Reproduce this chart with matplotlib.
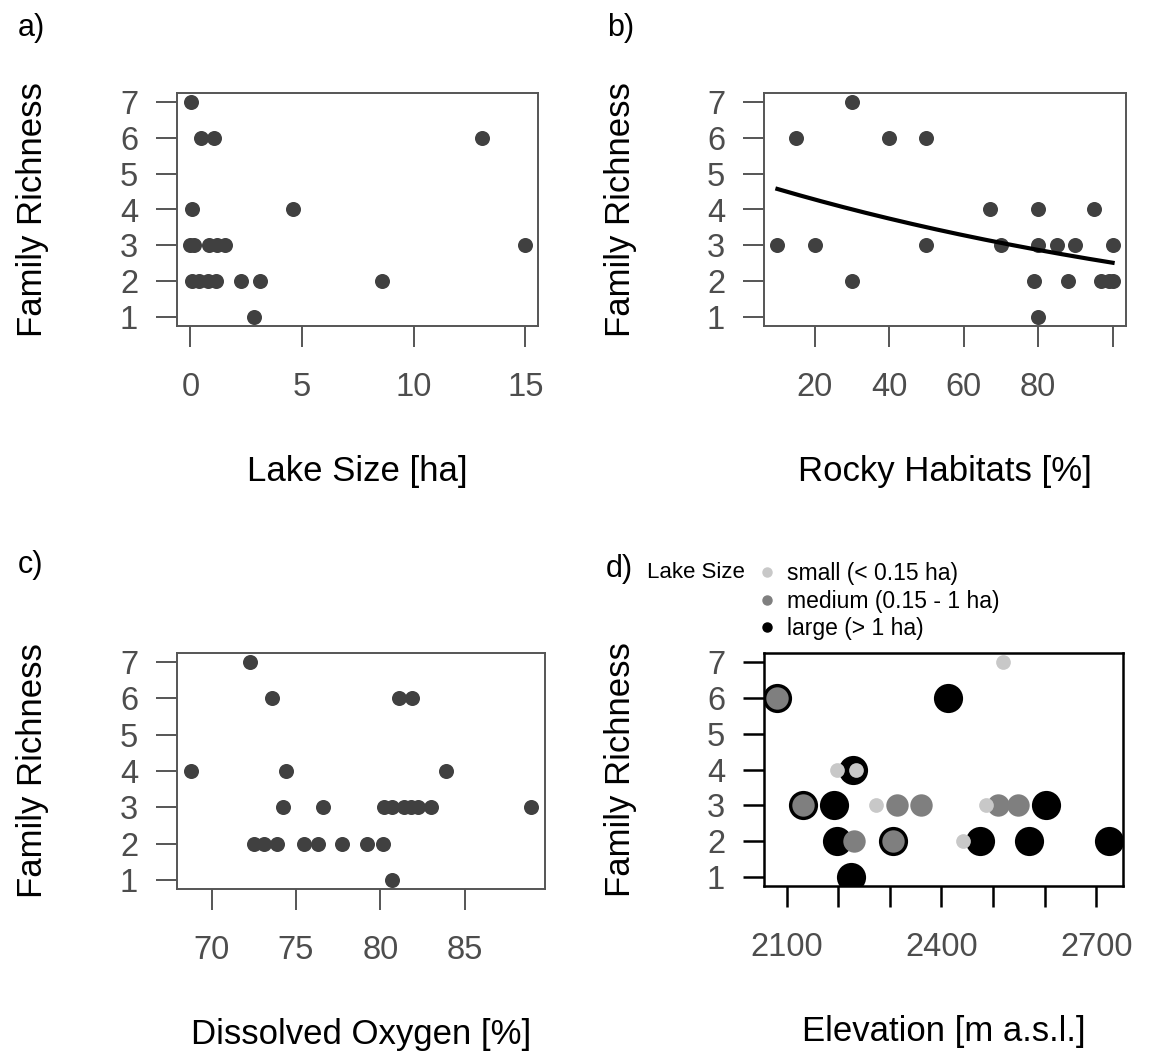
import numpy as np
import matplotlib
matplotlib.use("Agg")
import matplotlib.pyplot as plt
from matplotlib.lines import Line2D

plt.rcParams['font.family'] = ['Liberation Sans', 'DejaVu Sans']

# a) lake size
lake_size = [0.03, 0.48, 1.07, 13.06, 0.05, 4.61, 0.0, 0.15, 0.85, 1.18, 1.55, 14.96,
             0.06, 0.4, 0.78, 1.15, 2.27, 3.13, 8.57, 2.84]
rich_a = [7, 6, 6, 6, 4, 4, 3, 3, 3, 3, 3, 3, 2, 2, 2, 2, 2, 2, 2, 1]

# b) rocky habitats + fitted poisson curve (coefficients read off the figure)
rocky = [30, 15, 40, 50, 67, 80, 95, 10, 20, 50, 70, 80, 85, 90, 100,
         30, 79, 88, 97, 99, 100, 80]
rich_b = [7, 6, 6, 6, 4, 4, 4, 3, 3, 3, 3, 3, 3, 3, 3, 2, 2, 2, 2, 2, 2, 1]
fit_intercept = 1.586
fit_slope = -0.00662

# c) dissolved oxygen
oxygen = [72.3, 73.6, 81.1, 81.9, 68.75, 74.4, 83.9, 74.2, 76.6, 80.2, 80.7, 81.4,
          81.8, 82.2, 83.0, 88.9, 72.5, 73.1, 73.9, 75.45, 76.3, 77.7, 79.2, 80.15, 80.7]
rich_c = [7, 6, 6, 6, 4, 4, 4, 3, 3, 3, 3, 3, 3, 3, 3, 3, 2, 2, 2, 2, 2, 2, 2, 2, 1]

# d) elevation, split by lake size class
elev_large = [2082, 2412, 2228, 2132, 2192, 2602, 2197, 2306, 2474, 2570, 2725, 2225]
rich_large = [6, 6, 4, 3, 3, 3, 2, 2, 2, 2, 2, 1]
elev_medium = [2082, 2132, 2314, 2361, 2509, 2548, 2231, 2306]
rich_medium = [6, 3, 3, 3, 3, 3, 2, 2]
elev_small = [2520, 2198, 2235, 2273, 2486, 2442]
rich_small = [7, 4, 4, 3, 3, 2]

size_labels = ['small (< 0.15 ha)', 'medium (0.15 - 1 ha)', 'large (> 1 ha)']
size_cols = ['#c8c8c8', '#7f7f7f', '#000000']

W, H = 1152, 1059
fig = plt.figure(figsize=(W / 100, H / 100), dpi=100)

def add_ax(l, t, r, b):
    return fig.add_axes([l / W, 1 - b / H, (r - l) / W, (b - t) / H])

def style(ax, l, r, b, t, axcol, xlabel, xticks, xticklabels, ylab_x):
    for s in ax.spines.values():
        s.set_color(axcol)
        s.set_linewidth(1.4)
    ax.set_ylim(0.76, 7.24)
    ax.set_yticks(range(1, 8))
    ax.set_xticks(xticks)
    ax.set_xticklabels(xticklabels)
    ax.tick_params(axis='both', length=15, width=1.4, color=axcol,
                   labelcolor='#4d4d4d', labelsize=23.5)
    ax.tick_params(axis='x', pad=18)
    ax.tick_params(axis='y', pad=13)
    ax.set_xlabel(xlabel, fontsize=25, color='black', va='top')
    ax.set_ylabel('Family Richness', fontsize=25, color='black')
    ax.xaxis.set_label_coords(0.5, -129 / (b - t))
    ax.yaxis.set_label_coords((ylab_x - l) / (r - l), 0.5)

pt_col = '#404040'
grey = '#555555'

# a)
ax = add_ax(177, 93, 538, 326)
ax.scatter(lake_size, rich_a, s=117, color=pt_col, linewidths=0, zorder=3)
ax.set_xlim(-0.6, 15.56)
style(ax, 177, 538, 326, 93, grey, 'Lake Size [ha]', [0, 5, 10, 15],
      ['0', '5', '10', '15'], 49)

# b)
ax = add_ax(764, 93, 1126, 326)
ax.scatter(rocky, rich_b, s=117, color=pt_col, linewidths=0, zorder=3)
xs = np.linspace(min(rocky), max(rocky), 200)
ax.plot(xs, np.exp(fit_intercept + fit_slope * xs), color='black', lw=3, zorder=4)
ax.set_xlim(6.4, 103.6)
style(ax, 764, 1126, 326, 93, grey, 'Rocky Habitats [%]', [20, 40, 60, 80, 100],
      ['20', '40', '60', '80', ''], 637)

# c)
ax = add_ax(177, 653, 545, 889)
ax.scatter(oxygen, rich_c, s=117, color=pt_col, linewidths=0, zorder=3)
ax.set_xlim(67.95, 89.75)
style(ax, 177, 545, 889, 653, grey, 'Dissolved Oxygen [%]', [70, 75, 80, 85],
      ['70', '75', '80', '85'], 49)

# d)
ax = add_ax(764, 653, 1123, 886)
ax.scatter(elev_large, rich_large, s=441, color=size_cols[2], linewidths=0, zorder=3)
ax.scatter(elev_medium, rich_medium, s=260, color=size_cols[1], linewidths=0, zorder=4)
ax.scatter(elev_small, rich_small, s=112, color=size_cols[0], linewidths=0, zorder=5)
ax.set_xlim(2056, 2752)
d_ticks = list(range(2100, 2701, 100))
style(ax, 764, 1123, 886, 653, 'black', 'Elevation [m a.s.l.]', d_ticks,
      [str(v) if v in (2100, 2400, 2700) else '' for v in d_ticks], 637)
for s in ax.spines.values():
    s.set_linewidth(1.8)
ax.tick_params(width=1.8)

handles = [Line2D([], [], marker='o', ls='', color=c, markersize=6.5) for c in size_cols]
ax.legend(handles, size_labels, loc='upper left', frameon=False, fontsize=16.5,
          bbox_to_anchor=(756 / W, 1 - 562 / H), bbox_transform=fig.transFigure,
          borderpad=0, borderaxespad=0, handlelength=1.0, handletextpad=0.35,
          labelspacing=0.2)
fig.text(647 / W, 1 - 572 / H, 'Lake Size', fontsize=16, va='center', ha='left')

# panel letters
for lab, x, y in [('a)', 18, 28), ('b)', 607, 28), ('c)', 18, 565), ('d)', 606, 569)]:
    fig.text(x / W, 1 - y / H, lab, fontsize=22, va='center', ha='left')

fig.savefig('out.png', dpi=100)
